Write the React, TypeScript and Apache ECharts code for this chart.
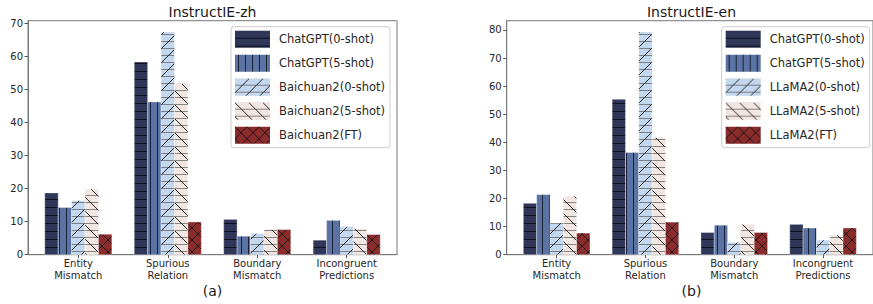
import React, { useEffect, useRef } from "react";
import * as echarts from "echarts";

const categories = ["Entity\nMismatch", "Spurious\nRelation", "Boundary\nMismatch", "Incongruent\nPredictions"];

const zhSeriesNames = ["ChatGPT(0-shot)", "ChatGPT(5-shot)", "Baichuan2(0-shot)", "Baichuan2(5-shot)", "Baichuan2(FT)"];
const enSeriesNames = ["ChatGPT(0-shot)", "ChatGPT(5-shot)", "LLaMA2(0-shot)", "LLaMA2(5-shot)", "LLaMA2(FT)"];

const chatgpt0Zh = [18.7, 58.4, 10.7, 4.4];
const chatgpt5Zh = [14.3, 46.3, 5.6, 10.4];
const baichuan0Zh = [16.4, 67.5, 6.4, 8.5];
const baichuan5Zh = [19.9, 51.8, 7.6, 7.9];
const baichuanFtZh = [6.2, 9.9, 7.6, 6.1];

const chatgpt0En = [18.3, 55.3, 7.9, 10.8];
const chatgpt5En = [21.4, 36.4, 10.5, 9.5];
const llama0En = [11.3, 79.3, 4.4, 5.2];
const llama5En = [20.8, 41.7, 10.8, 7.0];
const llamaFtEn = [7.7, 11.6, 7.9, 9.5];

const zhTicks = [0, 10, 20, 30, 40, 50, 60, 70];
const enTicks = [0, 10, 20, 30, 40, 50, 60, 70, 80];

const barColors = ["#2f3657", "#5a73a3", "#c3d7ee", "#f1e6e1", "#8c2b2b"];
const hatchKinds = ["h", "v", "slash", "back", "x"];

function makePattern(bg: string, kind: string) {
  let w = 8, h = 8;
  if (kind === "v") { w = 7; h = 8; }
  if (kind === "slash" || kind === "back") { w = 14; h = 14; }
  if (kind === "x") { w = 12; h = 12; }
  const c = document.createElement("canvas");
  c.width = w;
  c.height = h;
  const ctx = c.getContext("2d")!;
  ctx.fillStyle = bg;
  ctx.fillRect(0, 0, w, h);
  if (kind === "h") {
    ctx.fillStyle = "rgba(10,12,25,0.9)";
    ctx.fillRect(0, 7, w, 1);
  } else if (kind === "v") {
    ctx.fillStyle = "rgba(15,18,35,0.85)";
    ctx.fillRect(3, 0, 1, h);
  } else {
    const s = w;
    if (kind === "slash" || kind === "back") {
      ctx.fillStyle = "rgba(90,90,90,0.7)";
      ctx.fillRect(0, 6, s, 1);
      ctx.fillRect(0, 13, s, 1);
    }
    ctx.strokeStyle = "rgba(20,20,20,0.9)";
    ctx.lineWidth = 1;
    ctx.beginPath();
    for (const k of [-s, 0, s]) {
      if (kind === "slash" || kind === "x") {
        ctx.moveTo(k, s);
        ctx.lineTo(k + s, 0);
      }
      if (kind === "back" || kind === "x") {
        ctx.moveTo(k, 0);
        ctx.lineTo(k + s, s);
      }
    }
    ctx.stroke();
  }
  return { image: c, repeat: "repeat", imageWidth: w, imageHeight: h };
}

export default function App() {
  const ref = useRef<HTMLDivElement>(null);
  useEffect(() => {
    if (!ref.current) return;
    const chart = echarts.init(ref.current, null, { renderer: "svg" });
    const patterns = barColors.map((col, i) => makePattern(col, hatchKinds[i]));
    const barW = 0.15;
    const font = "DejaVu Sans";
    const zhData = [chatgpt0Zh, chatgpt5Zh, baichuan0Zh, baichuan5Zh, baichuanFtZh];
    const enData = [chatgpt0En, chatgpt5En, llama0En, llama5En, llamaFtEn];

    const mkSeries = (names: string[], data: number[][], gi: number) =>
      names.map((name, i) => ({
        type: "custom",
        name,
        xAxisIndex: gi,
        yAxisIndex: gi,
        itemStyle: { color: patterns[i] },
        encode: { x: 0, y: 1 },
        data: data[i].map((v, ci) => [ci, v]),
        renderItem: (params: any, api: any) => {
          const x = api.value(0) + (i - 2) * barW;
          const v = api.value(1);
          const top = api.coord([x, v]);
          const base = api.coord([x, 0]);
          const w = api.size([barW, 0])[0];
          return {
            type: "rect",
            shape: { x: top[0] - w / 2, y: top[1], width: w, height: base[1] - top[1] },
            style: { fill: patterns[i], stroke: "rgba(255,255,255,0.55)", lineWidth: 0.6 },
          };
        },
      }));

    const xAxisFor = (gi: number) => ({
      type: "value",
      gridIndex: gi,
      min: -0.5625,
      max: 3.5625,
      splitLine: { show: false },
      axisLine: { show: true, onZero: false, lineStyle: { color: "#777", width: 1 } },
      axisTick: { show: true, customValues: [0, 1, 2, 3], length: 3.5, lineStyle: { color: "#555" } },
      axisLabel: {
        customValues: [0, 1, 2, 3],
        formatter: (v: number) => categories[Math.round(v)],
        fontSize: 10,
        lineHeight: 12,
        color: "#262626",
        fontFamily: font,
        margin: 3,
      },
    });
    const yAxisFor = (gi: number, max: number, ticks: number[]) => ({
      type: "value",
      gridIndex: gi,
      min: 0,
      max,
      splitLine: { show: false },
      axisLine: { show: true, onZero: false, lineStyle: { color: "#777", width: 1 } },
      axisTick: { show: true, customValues: ticks, length: 3.5, lineStyle: { color: "#555" } },
      axisLabel: { customValues: ticks, fontSize: 10, color: "#262626", fontFamily: font, margin: 5 },
    });
    const legendFor = (names: string[], left: number) => ({
      orient: "vertical",
      left,
      top: 26.7,
      data: names,
      icon: "rect",
      itemWidth: 35,
      itemHeight: 17,
      itemGap: 7,
      padding: [4, 5, 4, 4],
      backgroundColor: "rgba(255,255,255,0.85)",
      borderColor: "#cccccc",
      borderWidth: 1,
      borderRadius: 3,
      selectedMode: false,
      textStyle: { fontSize: 11.5, color: "#262626", fontFamily: font, padding: [0, 0, 0, 4] },
    });

    chart.setOption({
      animation: false,
      grid: [
        { left: 28, top: 20.7, width: 369, height: 234, show: true, borderColor: "#777", borderWidth: 1 },
        { left: 506.7, top: 20.7, width: 369, height: 234, show: true, borderColor: "#777", borderWidth: 1 },
      ],
      xAxis: [xAxisFor(0), xAxisFor(1)],
      yAxis: [yAxisFor(0, 70.9, zhTicks), yAxisFor(1, 83.3, enTicks)],
      legend: [legendFor(zhSeriesNames, 231), legendFor(enSeriesNames, 721.7)],
      graphic: [
        { type: "text", x: 212.5, y: 11.5, style: { text: "InstructIE-zh", align: "center", verticalAlign: "middle", fontSize: 14, fontFamily: font, fill: "#1a1a1a" } },
        { type: "text", x: 691.5, y: 11.5, style: { text: "InstructIE-en", align: "center", verticalAlign: "middle", fontSize: 14, fontFamily: font, fill: "#1a1a1a" } },
        { type: "text", x: 212.5, y: 291, style: { text: "(a)", align: "center", verticalAlign: "middle", fontSize: 14, fontFamily: font, fill: "#1a1a1a" } },
        { type: "text", x: 691.5, y: 291, style: { text: "(b)", align: "center", verticalAlign: "middle", fontSize: 14, fontFamily: font, fill: "#1a1a1a" } },
      ],
      series: [...mkSeries(zhSeriesNames, zhData, 0), ...mkSeries(enSeriesNames, enData, 1)],
    });
    return () => chart.dispose();
  }, []);
  return <div ref={ref} style={{ position: "absolute", left: 0, top: 0, width: 873, height: 304 }} />;
}
